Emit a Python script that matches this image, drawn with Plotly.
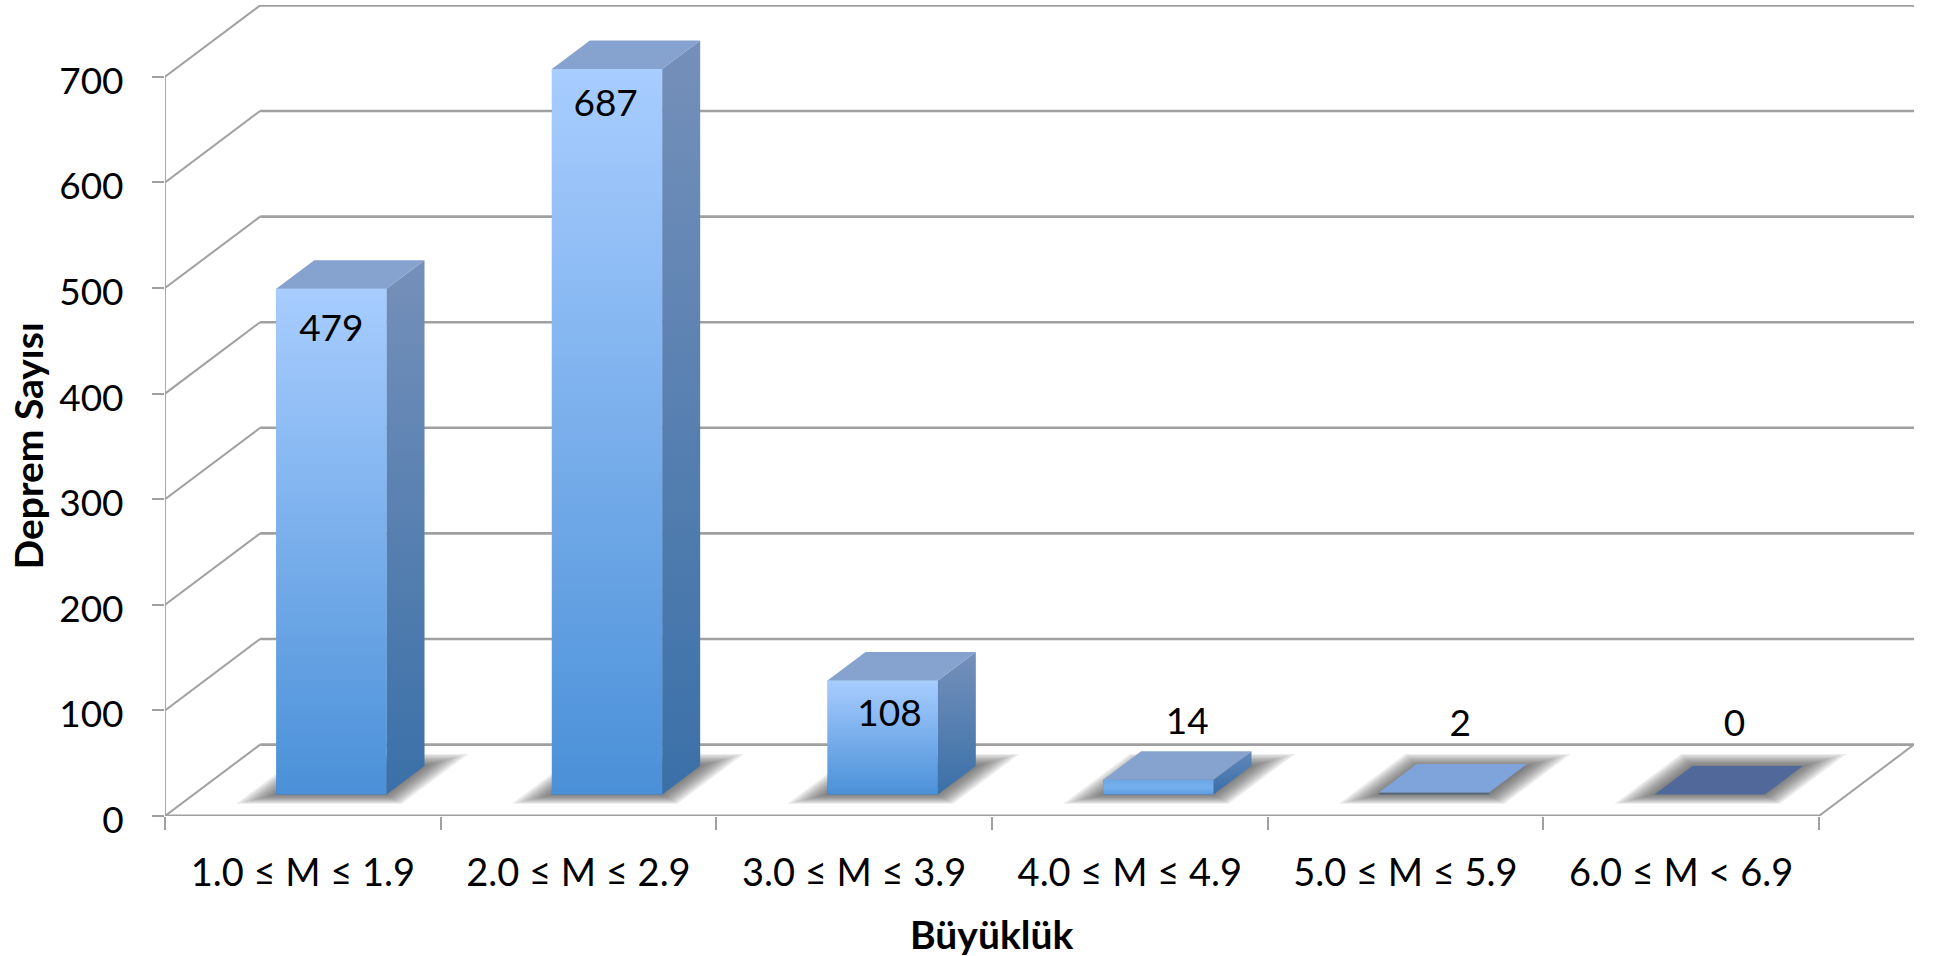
import plotly.graph_objects as go

categories = ["1.0 ≤ M ≤ 1.9", "2.0 ≤ M ≤ 2.9", "3.0 ≤ M ≤ 3.9",
              "4.0 ≤ M ≤ 4.9", "5.0 ≤ M ≤ 5.9", "6.0 ≤ M < 6.9"]
counts = [479, 687, 108, 14, 2, 0]
y_ticks = [0, 100, 200, 300, 400, 500, 600, 700]

# oblique projection of the chart's depth, in axis units
DX, DY = 0.345, 67.6
BAR_W = 0.4
Z0, Z1 = 0.3, 0.7
label_dx = [0.0, -0.005, 0.025, 0.105, 0.095, 0.09]
label_dy = [-40.5, -35.5, -34.5, 52, 62, 64]

GRID = "#a0a0a0"
FONT = "Lato, Carlito, Calibri, sans-serif"
TXT = "#000000"


def p(x, y, z):
    return x + z * DX, y + z * DY


def poly(pts, **kw):
    xs = [q[0] for q in pts] + [pts[0][0]]
    ys = [q[1] for q in pts] + [pts[0][1]]
    return go.Scatter(x=xs, y=ys, mode="lines", fill="toself", line=dict(width=0),
                      hoverinfo="skip", showlegend=False, cliponaxis=False, **kw)


def line(xs, ys, width=2.6, color=GRID):
    return go.Scatter(x=xs, y=ys, mode="lines", line=dict(color=color, width=width),
                      hoverinfo="skip", showlegend=False, cliponaxis=False)


fig = go.Figure()
xL, xR = -0.5, 5.5

# back wall, left wall, floor
for v in y_ticks:
    a, b = p(xL, v, 1), p(xR, v, 1)
    fig.add_trace(line([a[0], b[0]], [a[1], b[1]]))
    c = p(xL, v, 0)
    fig.add_trace(line([c[0], a[0]], [c[1], a[1]], width=2))
fig.add_trace(line([xL, xL], [0, y_ticks[-1]], width=1.8))
fig.add_trace(line([xL, xR], [0, 0], width=2.8))
e = p(xR, 0, 1)
fig.add_trace(line([xR, e[0]], [0, e[1]], width=2))

# soft shadows under the bars
for i, _ in enumerate(categories):
    n = 10
    for k in range(n):
        t = k / (n - 1)
        gx = 0.1 * (1 - t)
        z0 = Z0 - 0.13 * (1 - t)
        z1 = Z1 + 0.17 * (1 - t)
        l, r = i - BAR_W / 2 - gx, i + BAR_W / 2 + gx
        fig.add_trace(poly([p(l, 0, z0), p(r, 0, z0), p(r, 0, z1), p(l, 0, z1)],
                           fillcolor="rgba(70,70,70,0.105)"))

# bars: real bar trace for the front faces
fig.add_trace(go.Bar(x=[i + Z0 * DX for i in range(len(counts))], y=counts,
                     base=[Z0 * DY] * len(counts), width=BAR_W,
                     marker=dict(color="#78aeea", line=dict(width=0)), showlegend=False,
                     hovertext=categories, hoverinfo="text+y"))

for i, v in enumerate(counts):
    l, r = i - BAR_W / 2, i + BAR_W / 2
    if v >= 10:
        fig.add_trace(poly([p(r, 0, Z0), p(r, 0, Z1), p(r, v, Z1), p(r, v, Z0)],
                           fillgradient=dict(type="vertical",
                                             colorscale=[[0, "#3a70a8"], [1, "#7590ba"]] if v > 50
                                             else [[0, "#3a6ea8"], [1, "#6288b8"]])))
        fig.add_trace(poly([p(l, 0, Z0), p(r, 0, Z0), p(r, v, Z0), p(l, v, Z0)],
                           fillgradient=dict(type="vertical",
                                             colorscale=[[0, "#4a90d8"], [1, "#a8cdff"]] if v > 50
                                             else [[0, "#5a9ce2"], [0.5, "#76b0ef"], [1, "#6aa6e6"]])))
    top = "#86a3cf" if v >= 10 else ("#7fa4dc" if v > 0 else "#50699a")
    fig.add_trace(poly([p(l, v, Z0), p(r, v, Z0), p(r, v, Z1), p(l, v, Z1)], fillcolor=top))

# value labels
fig.add_trace(go.Scatter(
    x=[i + Z0 * DX + label_dx[i] for i in range(len(counts))],
    y=[counts[i] + Z0 * DY + label_dy[i] for i in range(len(counts))],
    mode="text", text=[str(v) for v in counts], textposition="middle center",
    textfont=dict(family=FONT, size=37, color=TXT), hoverinfo="skip", showlegend=False,
    cliponaxis=False))

fig.update_layout(
    width=1946, height=956, autosize=False,
    margin=dict(l=164.5, r=32, t=5.3, b=140.3, pad=0),
    paper_bgcolor="white", plot_bgcolor="white", barmode="overlay",
    font=dict(family=FONT, color=TXT),
    xaxis=dict(range=[xL, xR + DX], tickmode="array", tickvals=list(range(len(categories))),
               ticktext=categories, ticks="", ticklabelstandoff=31, showgrid=False, zeroline=False,
               tickfont=dict(family=FONT, size=38, color=TXT), showline=False,
               minor=dict(tickmode="array", tickvals=[i - 0.5 for i in range(len(categories) + 1)],
                          ticks="outside", ticklen=13, tickcolor=GRID, tickwidth=1.8, showgrid=False)),
    yaxis=dict(range=[0, 768], tickmode="array", tickvals=y_ticks, ticks="outside", ticklen=12,
               tickcolor=GRID, tickwidth=1.8, ticklabelstandoff=21, ticklabelshift=4,
               showgrid=False, zeroline=False, showline=False,
               tickfont=dict(family=FONT, size=37, color=TXT)),
    annotations=[
        dict(text="<b>Büyüklük</b>", x=2.5, y=0, xref="x", yref="y", yshift=-118, showarrow=False,
             xanchor="center", yanchor="middle", font=dict(family=FONT, size=39, color=TXT)),
        dict(text="<b>Deprem Sayısı</b>", x=xL, y=350, xref="x", yref="y", xshift=-137, showarrow=False,
             textangle=-90, xanchor="center", yanchor="middle", font=dict(family=FONT, size=39, color=TXT)),
    ],
)

fig.write_html("out.html", post_script="document.body.style.margin='0';",
               config={"displayModeBar": False})
